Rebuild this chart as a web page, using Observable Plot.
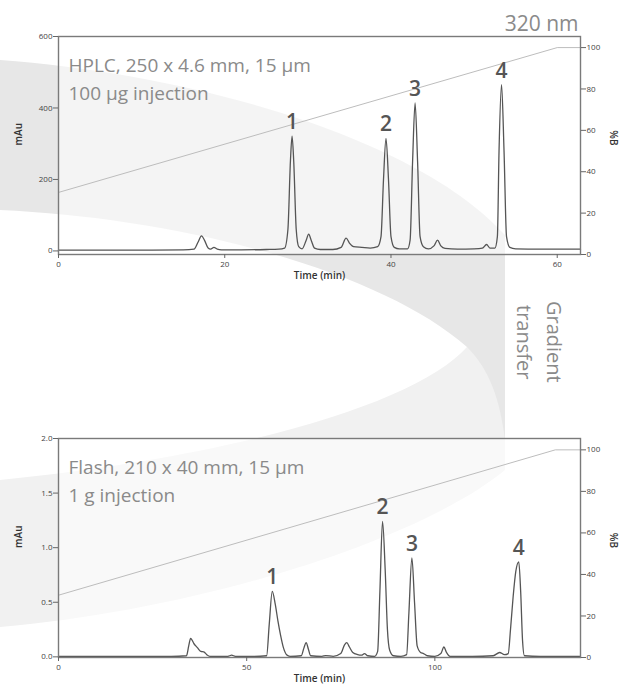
<!DOCTYPE html>
<html>
<head>
<meta charset="utf-8">
<script src="https://cdn.jsdelivr.net/npm/d3@7"></script>
<script src="https://cdn.jsdelivr.net/npm/@observablehq/plot@0.6"></script>
<style>
  html, body { margin: 0; padding: 0; background: #fff; }
  #wrap { position: relative; width: 622px; height: 693px; overflow: hidden; font-family: "Open Sans", sans-serif; }
  #bg { position: absolute; left: 0; top: 0; }
  #top { position: absolute; left: 0; top: 0; }
  #bottom { position: absolute; left: 0; top: 400px; }
  #transfer { position: absolute; left: 503px; top: 290px; width: 66px; height: 104px;
    writing-mode: vertical-rl; text-align: center; font-size: 20px; line-height: 30px; color: #8a8a8a; }
</style>
</head>
<body>
<div id="wrap">
  <svg id="bg" width="622" height="693">
    <path d="M0,480 C250,455 420,400 467,347 L505,300 L505,470 C420,540 200,610 0,627 Z" fill="#f1f1f1"/>
    <path d="M0,60 C200,75 420,140 505,235 L505,440 C500,400 490,370 467,347 C380,270 180,218 0,210 Z" fill="#e7e7e7"/>
  </svg>
  <div id="top"></div>
  <div id="bottom"></div>
  <div id="transfer">Gradient<br>transfer</div>
</div>
<script>
// ---------- HPLC (top) ----------
const hplcTime = [0, 5, 10, 15, 16.3, 16.8, 17.2, 17.6, 18.0, 18.3, 18.7, 19.1, 19.6, 22, 25, 26.5, 27.2, 27.6, 27.9, 28.1, 28.3, 28.6, 28.9, 29.3, 29.8, 30.1, 30.4, 30.8, 31.5, 33, 34.0, 34.6, 35.0, 35.5, 36.5, 37.5, 38.4, 38.8, 39.1, 39.4, 39.7, 40.0, 40.4, 41, 42.0, 42.3, 42.6, 42.9, 43.2, 43.5, 43.9, 44.5, 45.2, 45.6, 46.0, 46.5, 48, 50, 51.0, 51.5, 51.9, 52.5, 52.8, 53.0, 53.3, 53.6, 53.9, 54.3, 55, 58, 62.8];
const hplcSignal = [2, 2, 2, 3, 5, 25, 42, 28, 8, 5, 10, 5, 3, 3, 4, 5, 8, 60, 250, 321, 250, 60, 12, 6, 30, 47, 30, 8, 4, 4, 10, 36, 22, 12, 10, 8, 12, 40, 200, 315, 200, 40, 10, 6, 6, 30, 250, 414, 250, 40, 12, 6, 15, 30, 14, 7, 5, 6, 8, 18, 8, 8, 40, 280, 465, 280, 40, 10, 6, 5, 5];
const hplcGradTime = [0, 60, 62.8];
const hplcGradB = [30, 100, 100];
const hplcPeakTime = [28.1, 39.4, 42.9, 53.3];
const hplcPeakHeight = [321, 315, 414, 465];
const hplcXTicks = [0, 20, 40, 60];
const hplcYTicks = [0, 200, 400, 600];

// ---------- Flash (bottom) ----------
const flashTime = [0, 10, 20, 30, 34.0, 34.6, 35.1, 36.0, 36.9, 37.8, 38.6, 39.4, 40.2, 45, 46.0, 47, 52, 55.3, 56.0, 56.8, 57.6, 58.3, 59.0, 59.8, 60.6, 61.5, 64.5, 65.2, 65.8, 66.4, 67.0, 70, 71, 73, 75.0, 76.0, 76.6, 77.3, 78.2, 79.5, 80.5, 81.3, 82.2, 84.0, 84.8, 85.4, 86.1, 86.8, 87.4, 88.0, 89, 91, 92.5, 93.1, 93.9, 94.6, 95.3, 96.2, 97.0, 98, 100, 101.6, 102.4, 103.1, 104, 110, 115.5, 117.2, 118.5, 119.5, 120.1, 120.8, 121.5, 122.3, 122.8, 123.3, 123.8, 128, 138.7];
const flashSignal = [0.005, 0.005, 0.005, 0.005, 0.01, 0.1, 0.17, 0.12, 0.085, 0.05, 0.046, 0.02, 0.005, 0.005, 0.015, 0.005, 0.005, 0.01, 0.3, 0.6, 0.48, 0.33, 0.2, 0.08, 0.02, 0.005, 0.01, 0.08, 0.13, 0.07, 0.01, 0.005, 0.012, 0.005, 0.03, 0.11, 0.13, 0.09, 0.04, 0.02, 0.015, 0.03, 0.01, 0.005, 0.05, 0.6, 1.24, 0.8, 0.25, 0.06, 0.01, 0.005, 0.02, 0.4, 0.907, 0.5, 0.1, 0.04, 0.03, 0.01, 0.005, 0.03, 0.09, 0.04, 0.005, 0.005, 0.01, 0.04, 0.02, 0.03, 0.25, 0.55, 0.78, 0.87, 0.6, 0.15, 0.01, 0.005, 0.005];
const flashGradTime = [0, 132, 138.7];
const flashGradB = [30, 100, 100];
const flashPeakTime = [56.8, 86.1, 93.9, 122.3];
const flashPeakHeight = [0.60, 1.24, 0.907, 0.87];
const flashXTicks = [0, 50, 100];
const flashYTicks = [0, 0.5, 1.0, 1.5, 2.0];

const peakLabels = ["1", "2", "3", "4"];
const bTicks = [0, 20, 40, 60, 80, 100];

function chromChart(cfg) {
  const series = cfg.time.map((t, i) => ({t, v: cfg.signal[i]}));
  const grad = cfg.gradTime.map((t, i) => ({t, b: cfg.gradB[i]}));
  const peaks = cfg.peakTime.map((t, i) => ({t, v: cfg.peakHeight[i], label: peakLabels[i]}));
  const b2m = b => cfg.bOff + cfg.bK * b;
  const m2b = m => Math.round((m - cfg.bOff) / cfg.bK);
  const marks = [
    Plot.frame({fill: "white", fillOpacity: 0.55, stroke: null}),
    Plot.line(grad, {x: "t", y: d => b2m(d.b), stroke: "#bdbdbd", strokeWidth: 1}),
    Plot.line(series, {x: "t", y: "v", stroke: "#555", strokeWidth: 1.3, curve: "monotone-x"}),
    Plot.frame({stroke: "#7a7a7a", strokeWidth: 1.4}),
    Plot.axisY({ticks: cfg.yTicks, tickSize: 5, tickPadding: 1, tickFormat: cfg.yFormat, label: null, stroke: "#666"}),
    Plot.axisY({anchor: "right", ticks: bTicks.map(b2m), tickSize: 5, tickPadding: 1, tickFormat: m2b, label: null, stroke: "#666"}),
    Plot.axisX({ticks: cfg.xTicks, tickSize: 4, tickPadding: 3, label: null, stroke: "#666"}),
    Plot.text(["mAu"], {text: d => d, frameAnchor: "left", dx: -40, rotate: -90, fontSize: 10, fontWeight: 600, fill: "#333"}),
    Plot.text(["%B"], {text: d => d, frameAnchor: "right", dx: 33, rotate: 90, fontSize: 10, fontWeight: 600, fill: "#333"}),
    Plot.text(["Time (min)"], {text: d => d, frameAnchor: "bottom", dy: 24, fontSize: 10, fontWeight: 600, fill: "#333"}),
    Plot.text([cfg.title], {text: d => d, frameAnchor: "top-left", textAnchor: "start", lineAnchor: "top", dx: 10, dy: 16, lineHeight: 1.45, fontSize: 19, fill: "#8a8a8a"}),
    Plot.text(peaks, {x: "t", y: "v", text: "label", lineAnchor: "bottom", dy: -7, fontSize: 21, fontWeight: 600, fill: "#555"})
  ];
  if (cfg.extra) marks.push(...cfg.extra);
  return Plot.plot({
    width: 622, height: cfg.height,
    marginLeft: 58, marginRight: 42, marginTop: cfg.marginTop, marginBottom: 36,
    style: {background: "transparent", fontFamily: "'Open Sans', sans-serif", fontSize: "8px", color: "#444", overflow: "visible"},
    x: {domain: cfg.xDomain, label: null},
    y: {domain: cfg.yDomain, label: null},
    marks
  });
}

document.getElementById("top").append(chromChart({
  time: hplcTime, signal: hplcSignal, gradTime: hplcGradTime, gradB: hplcGradB,
  peakTime: hplcPeakTime, peakHeight: hplcPeakHeight,
  xDomain: [0, 62.8], yDomain: [-10, 600], xTicks: hplcXTicks, yTicks: hplcYTicks,
  yFormat: d3.format("d"), bOff: -10, bK: 5.79,
  title: "HPLC, 250 x 4.6 mm, 15 µm\n100 µg injection",
  height: 290, marginTop: 36,
  extra: [Plot.text(["320 nm"], {text: d => d, frameAnchor: "top-right", textAnchor: "end", lineAnchor: "bottom", dx: -2, dy: -6, fontSize: 21, fill: "#8a8a8a"})]
}));

document.getElementById("bottom").append(chromChart({
  time: flashTime, signal: flashSignal, gradTime: flashGradTime, gradB: flashGradB,
  peakTime: flashPeakTime, peakHeight: flashPeakHeight,
  xDomain: [0, 138.7], yDomain: [-0.006, 2.0], xTicks: flashXTicks, yTicks: flashYTicks,
  yFormat: d3.format(".1f"), bOff: -0.006, bK: 0.01902,
  title: "Flash, 210 x 40 mm, 15 µm\n1 g injection",
  height: 293, marginTop: 38
}));
</script>
</body>
</html>
